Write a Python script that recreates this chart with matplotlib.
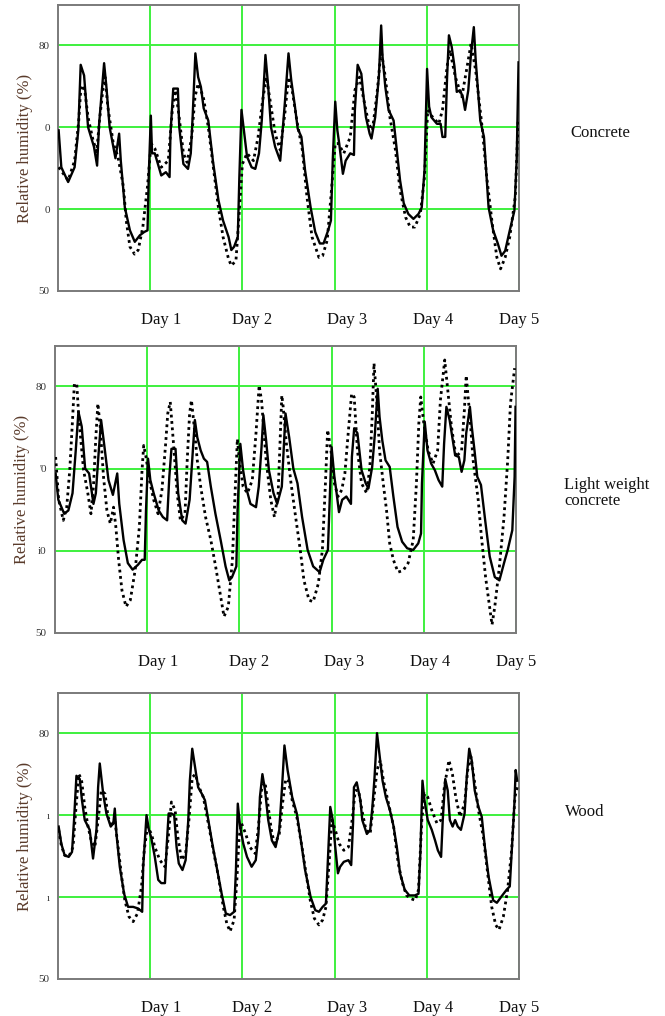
import matplotlib
matplotlib.use("Agg")
import matplotlib.pyplot as plt

plt.rcParams['font.family'] = ['Liberation Serif', 'DejaVu Serif']

# ---------------- data (day, relative humidity %) ----------------
conc_solid_t = [0.007,0.036,0.11,0.18,0.22,0.246,0.283,0.326,0.39,0.424,0.446,0.47,0.5,0.525,0.56,0.623,0.663,0.681,0.725,0.78,0.833,0.888,0.935,0.971,0.985,1.007,1.02,1.05,1.12,1.17,1.21,1.22,1.25,1.30,1.315,1.36,1.41,1.44,1.46,1.49,1.52,1.55,1.58,1.63,1.68,1.74,1.79,1.85,1.88,1.91,1.95,1.967,1.99,2.02,2.05,2.10,2.14,2.18,2.21,2.25,2.28,2.31,2.355,2.41,2.46,2.50,2.53,2.57,2.60,2.64,2.68,2.74,2.79,2.84,2.88,2.93,2.96,2.98,3.007,3.03,3.05,3.09,3.12,3.17,3.21,3.22,3.25,3.29,3.31,3.34,3.38,3.40,3.44,3.48,3.505,3.52,3.55,3.585,3.64,3.675,3.71,3.75,3.80,3.855,3.91,3.945,3.975,4.003,4.025,4.05,4.11,4.15,4.17,4.20,4.22,4.24,4.27,4.30,4.325,4.36,4.39,4.415,4.45,4.48,4.51,4.53,4.55,4.58,4.62,4.67,4.72,4.77,4.81,4.85,4.90,4.95,4.975,4.995]
conc_solid_v = [69.6,65.1,63.3,65.1,69.6,77.6,76.3,70,67.6,65.3,70.4,73.7,77.8,74.9,70,66.2,69.2,65.9,60.2,57.4,56,56.8,57.2,57.4,64.3,71.4,66.8,66.8,64.1,64.5,63.9,69.2,74.7,74.7,70,65.5,64.9,66.8,71.2,79,76.1,74.9,72.3,70.8,65.9,61.1,58.6,56.6,55,55.4,56.6,63.9,72.1,69.2,66.4,65.1,64.9,66.8,70.8,78.8,74.9,70,67.6,65.9,72.9,79,75.7,72.5,69.8,68.8,64.7,60.2,57.2,55.8,55.8,57.4,58.6,66,73.1,69.6,68,64.3,65.9,66.8,66.6,72.1,77.6,76.5,74.1,71.2,69.2,68.6,71.2,76.1,82.4,78.6,74.9,72.1,70.8,67.2,63.5,60.7,59.4,58.8,59.4,60.2,64.7,77.1,72.5,71.2,70.4,70.4,68.8,68.8,76.1,81.2,79.8,77.4,74.3,74.5,73.7,72.1,74.5,79,82.2,78.2,75.3,70.8,68.8,60.2,57.4,55.8,54.3,54.9,57.4,59.8,66,77.9]

conc_dash_t = [0.007,0.11,0.18,0.225,0.25,0.29,0.326,0.38,0.42,0.45,0.49,0.51,0.54,0.60,0.65,0.71,0.74,0.78,0.83,0.87,0.92,0.97,1.01,1.05,1.12,1.196,1.24,1.275,1.31,1.36,1.40,1.45,1.486,1.52,1.576,1.63,1.68,1.74,1.79,1.85,1.88,1.93,1.96,2.0,2.05,2.12,2.17,2.22,2.26,2.30,2.355,2.41,2.46,2.50,2.54,2.59,2.65,2.70,2.755,2.83,2.87,2.92,2.96,3.007,3.04,3.10,3.17,3.22,3.27,3.31,3.37,3.41,3.46,3.505,3.55,3.60,3.66,3.71,3.77,3.82,3.87,3.93,3.975,4.01,4.05,4.13,4.17,4.22,4.25,4.31,4.38,4.43,4.48,4.53,4.60,4.65,4.71,4.76,4.80,4.85,4.90,4.96,4.99]
conc_dash_v = [65.1,63.5,65.9,70.8,75.1,74.5,71.2,68.4,67,70.8,74.9,76.1,72.5,68,66.4,62.7,58.6,55.4,54.5,55,57.8,62.7,68,67.4,65.1,65.9,72.1,74.5,71.6,66.8,65.7,68.8,73.7,75.3,73.7,70,65.5,60.2,56.6,53.9,53.1,53.7,58.6,65.5,66.8,65.9,68.8,73.3,76.1,73.3,69.2,67.2,71.6,76.1,74.5,70.8,67.2,61.5,56.6,54.1,54.3,56.2,61.5,68,68,66.8,68.8,74.5,76.1,73.7,70.4,69.6,74.1,79.4,76.1,71.2,67.2,62.3,59,57.8,57.8,59.4,63.9,72.1,71.4,70.4,72.1,77.4,79.4,76.1,73.7,76.9,80.2,76.9,70,63.9,58.2,54.1,52.7,54.1,56.6,61.5,70.8]

lwc_solid_t = [0.007,0.036,0.10,0.145,0.19,0.225,0.254,0.29,0.327,0.37,0.417,0.443,0.47,0.50,0.537,0.58,0.628,0.675,0.697,0.744,0.79,0.842,0.90,0.944,0.973,0.987,1.009,1.034,1.07,1.125,1.17,1.216,1.24,1.263,1.307,1.336,1.38,1.416,1.46,1.49,1.517,1.543,1.58,1.615,1.65,1.69,1.74,1.80,1.85,1.89,1.92,1.967,1.98,2.01,2.04,2.07,2.12,2.18,2.21,2.24,2.26,2.29,2.32,2.37,2.41,2.46,2.50,2.54,2.585,2.63,2.68,2.74,2.80,2.87,2.91,2.96,2.98,3.0,3.03,3.05,3.08,3.115,3.16,3.21,3.22,3.245,3.28,3.325,3.37,3.40,3.44,3.47,3.50,3.52,3.55,3.585,3.63,3.67,3.715,3.765,3.82,3.885,3.94,3.97,3.98,4.01,4.04,4.08,4.12,4.16,4.20,4.22,4.245,4.28,4.32,4.34,4.38,4.41,4.44,4.46,4.50,4.52,4.55,4.58,4.62,4.67,4.715,4.77,4.82,4.87,4.91,4.96,4.985,4.995]
lwc_solid_v = [69.4,66.2,64.5,64.9,67,72.2,76.9,75.1,70,69.4,65.7,67,71.4,75.9,72.6,68.6,66.8,69.4,65.7,61.3,58.5,57.7,58.3,58.9,58.9,64.9,71.2,68.6,67,64.9,64.1,63.7,69,72.4,72.4,67,63.7,63.3,66.2,71.4,75.9,73.8,72.2,71.2,70.8,67.8,64.5,61.1,58.1,56.4,56.8,58.1,64.9,73,69.8,67.8,65.7,65.3,67.8,72.6,76.5,73.4,69.8,67,65.7,67.8,76.7,73.8,70,68.2,64.1,60.1,58.1,57.4,58.9,60.1,66.2,72.6,69,67.4,64.7,66.2,66.6,65.7,71.4,74.9,74.3,69.8,68.2,67.6,70.2,74.3,79.7,76.3,73.4,71,70.2,66.6,62.9,61.1,60.3,60.1,60.9,62.1,68.2,75.7,72.2,70.6,69.8,68.6,67.8,73,77.5,75.9,73,71.6,71.4,69.6,71,74.3,77.5,75.1,72.2,69,68,63.3,59.3,56.8,56.4,58.5,60.1,62.5,69,77.5]

lwc_dash_t = [0.007,0.04,0.09,0.127,0.16,0.19,0.21,0.236,0.26,0.31,0.356,0.39,0.417,0.443,0.465,0.49,0.526,0.563,0.60,0.635,0.66,0.69,0.726,0.77,0.817,0.87,0.915,0.944,0.962,0.987,1.024,1.07,1.118,1.16,1.20,1.223,1.25,1.28,1.325,1.36,1.41,1.434,1.46,1.48,1.506,1.543,1.58,1.633,1.69,1.742,1.797,1.833,1.88,1.924,1.953,1.978,2.0,2.04,2.087,2.14,2.18,2.214,2.24,2.29,2.34,2.38,2.42,2.46,2.475,2.51,2.56,2.61,2.66,2.70,2.755,2.80,2.856,2.90,2.93,2.957,2.993,3.03,3.07,3.11,3.144,3.18,3.217,3.245,3.28,3.325,3.38,3.415,3.44,3.46,3.49,3.52,3.56,3.596,3.63,3.67,3.72,3.776,3.83,3.885,3.92,3.946,3.967,4.0,4.047,4.10,4.15,4.18,4.227,4.26,4.30,4.35,4.41,4.44,4.46,4.50,4.535,4.59,4.625,4.67,4.74,4.77,4.82,4.87,4.91,4.94,4.985]
lwc_dash_v = [71.4,66.2,63.7,65.3,69.8,75.9,80.3,80.3,75.9,69.8,67,64.5,67.8,73.8,77.9,75.1,69,64.9,63.3,65.3,62.9,58.9,55.2,53.2,54,57.7,62.9,69.8,72.8,71.4,68.6,66.2,64.5,67.4,73,76.7,78.1,73.8,67,63.7,64.5,71,76.7,78.3,75.5,71,67.8,64.1,61.3,58.1,54.4,52,53.2,58.9,67,73.6,71,67.8,67,68.6,74.3,80.1,78.3,71,66.2,64.1,67,78.9,77.5,73,68.2,64.1,60.1,56.4,54,53.8,56,60.1,67.4,74.7,72.2,68.2,66.6,67.4,69.4,74.3,79.1,78.7,72.2,68.2,67,70.2,76.3,82.8,78.3,72.2,68.2,64.9,60.9,58.9,57.4,57.6,58.5,61.3,68.2,75.5,78.7,75.5,72.2,70.6,72.2,78.3,83.2,79.5,75.1,71.4,72.2,77.1,81.3,76.3,71,66.2,61.7,56.8,51,53.2,58.1,64.1,71,77.9,82.2]

wood_solid_t = [0.007,0.036,0.072,0.116,0.152,0.174,0.20,0.236,0.26,0.29,0.344,0.38,0.417,0.435,0.453,0.49,0.525,0.572,0.60,0.616,0.634,0.67,0.717,0.76,0.815,0.87,0.913,0.924,0.96,0.986,1.01,1.05,1.087,1.12,1.16,1.18,1.20,1.23,1.26,1.286,1.31,1.35,1.384,1.413,1.43,1.456,1.486,1.52,1.56,1.594,1.63,1.674,1.72,1.775,1.82,1.866,1.91,1.93,1.95,1.975,2.01,2.05,2.10,2.145,2.174,2.19,2.217,2.246,2.28,2.32,2.36,2.40,2.43,2.456,2.49,2.54,2.59,2.64,2.68,2.74,2.79,2.83,2.87,2.906,2.93,2.953,2.98,3.007,3.036,3.06,3.10,3.15,3.18,3.20,3.21,3.24,3.28,3.30,3.35,3.386,3.41,3.433,3.46,3.49,3.52,3.556,3.60,3.64,3.675,3.71,3.76,3.81,3.87,3.91,3.93,3.953,3.975,4.01,4.054,4.09,4.12,4.155,4.173,4.20,4.227,4.25,4.28,4.307,4.336,4.37,4.41,4.433,4.46,4.487,4.52,4.56,4.596,4.63,4.67,4.72,4.76,4.805,4.866,4.90,4.92,4.95,4.964,4.98]
wood_solid_v = [68.6,66.5,65.1,64.9,65.5,69.4,74.8,74.4,71.8,69.4,68.2,64.7,68.2,73.4,76.3,72.6,70.2,68.6,69,70.8,67.7,63.7,60.4,58.8,58.8,58.6,58.2,63.7,70,68.2,67.3,64.9,62.1,61.7,61.7,66.5,70.2,70.2,70,66.1,64.1,63.3,64.5,69.4,74.2,78.1,75.9,73.4,72.6,71.8,69.4,66.5,63.7,60.4,58,57.8,58.2,63.3,71.4,68.6,66.5,64.9,63.7,64.5,67.7,72.2,75,73,69.4,66.9,66.1,68.2,73.4,78.5,75.5,72.2,70.2,66.5,63.3,60,58.4,58.2,58.8,59.2,65.3,71,69.4,66.1,62.9,63.7,64.3,64.5,63.9,69,73.4,74,71.8,69.4,67.7,68.2,71,74.6,80,77.1,74.2,72.2,70.6,68.6,66.1,62.9,60.9,60.2,60.2,60.4,65.3,74.2,71.8,69.4,68.2,66.9,65.7,64.9,69.4,74.4,73,69.4,68.6,69.4,68.6,68.2,70.2,74.6,78.1,76.7,73,71,69.8,66.1,62.5,59.6,59.3,60,60.9,61.3,65.3,71.4,75.5,74.2]

wood_dash_t = [0.007,0.036,0.072,0.116,0.163,0.19,0.225,0.254,0.29,0.326,0.36,0.40,0.435,0.47,0.51,0.543,0.58,0.616,0.652,0.69,0.725,0.77,0.815,0.862,0.906,0.935,0.97,1.014,1.05,1.105,1.16,1.196,1.23,1.27,1.30,1.34,1.384,1.42,1.456,1.49,1.53,1.576,1.63,1.685,1.74,1.793,1.83,1.866,1.91,1.94,1.964,1.99,2.036,2.08,2.14,2.174,2.21,2.246,2.28,2.32,2.355,2.40,2.435,2.47,2.50,2.54,2.59,2.646,2.69,2.736,2.78,2.83,2.87,2.906,2.94,2.97,3.007,3.05,3.10,3.15,3.19,3.224,3.26,3.296,3.34,3.386,3.42,3.46,3.495,3.53,3.585,3.64,3.69,3.736,3.78,3.83,3.874,3.91,3.946,3.975,4.01,4.054,4.11,4.155,4.19,4.24,4.278,4.314,4.36,4.41,4.444,4.48,4.516,4.56,4.614,4.66,4.704,4.747,4.783,4.83,4.877,4.92,4.956,4.98]
wood_dash_v = [68.2,66.3,65.1,64.9,66.1,70.2,75,74.4,71,68.6,66.9,66.1,69.4,73,72.6,69.8,68.6,69.4,66.1,62.5,59.6,57.6,57,58,61.3,65.7,68.6,67.7,66.1,64.5,63.7,67.3,71.6,70.6,67.3,64.5,65.3,69.4,74.6,75,73.4,72.2,69,65.7,62.5,58.8,56.8,55.8,57.2,62.1,67.3,69,67.7,66.1,65.3,68.6,73.4,74,71,67.7,66.5,67.7,71.4,74.4,74.2,71.8,69.8,66.1,62.9,59.6,57.4,56.6,57.2,58.8,64.1,69.4,68.2,66.5,65.7,66.1,69.4,73,73,70.6,68.2,67.7,71.4,75.5,76.7,74.2,71.4,68.6,64.1,61.7,60.2,59.8,59.6,60.9,69.4,72.6,72.2,70.6,69,69.4,73.4,76.7,75,72.2,69.8,71.4,75.5,77.1,74.2,70.6,67.3,62.9,58.8,56.6,56,57.6,60.9,65.7,72.2,73.4]

panels = [
    ("Concrete", conc_solid_t, conc_solid_v, conc_dash_t, conc_dash_v),
    ("Light weight\nconcrete", lwc_solid_t, lwc_solid_v, lwc_dash_t, lwc_dash_v),
    ("Wood", wood_solid_t, wood_solid_v, wood_dash_t, wood_dash_v),
]
ytick_vals = [50, 60, 70, 80]
ytick_text = [["50", "0", "0", "80"], ["50", "i0", "'0", "80"], ["50", "ı", "ı", "80"]]
day_labels = ["Day 1", "Day 2", "Day 3", "Day 4", "Day 5"]
day_label_pos = [1.12, 2.1, 3.14, 4.07, 5.0]

# ---------------- layout ----------------
W, H = 665, 1016
fig = plt.figure(figsize=(W / 100, H / 100), dpi=100)
fig.patch.set_facecolor("white")

boxes = [(58, 5, 519, 291), (55, 346, 516, 633), (58, 693, 519, 979)]
label_pos = [(600, 133, "center"), (564, 493, "left"), (585, 812, "center")]
green = "#3ef03e"

for i, (name, st, sv, dt, dv) in enumerate(panels):
    l, t, r, b = boxes[i]
    ax = fig.add_axes([l / W, 1 - b / H, (r - l) / W, (b - t) / H])
    ax.set_xlim(0, 5)
    ax.set_ylim(50, 84.9)
    for d in range(1, 6):
        ax.axvline(d, color=green, lw=1.4, zorder=1)
    for y in (60, 70, 80):
        ax.axhline(y, color=green, lw=1.4, zorder=1)
    ax.plot(dt, dv, color="black", lw=2.0, ls=(0, (1.0, 1.3)), zorder=3)
    ax.plot(st, sv, color="black", lw=1.7, zorder=4)
    for s in ax.spines.values():
        s.set_color("#7a7a7a")
        s.set_linewidth(1.4)
    ax.set_xticks([])
    ax.set_yticks(ytick_vals)
    ax.set_yticklabels(ytick_text[i], fontsize=8, color="#333333")
    ax.tick_params(axis="y", length=0, pad=6)
    ax.set_ylabel("Relative humidity (%)", fontsize=12, color="#5a3b2b", labelpad=4)
    for lab, xp in zip(day_labels, day_label_pos):
        ax.text(xp, -0.1, lab, transform=ax.get_xaxis_transform(), ha="center",
                va="center", fontsize=12, color="#111111")
    lx, ly, ha = label_pos[i]
    fig.text(lx / W, 1 - ly / H, name, ha=ha, va="center", fontsize=12,
             color="#111111", linespacing=1.0)

fig.savefig("out.png", dpi=100, facecolor="white")
